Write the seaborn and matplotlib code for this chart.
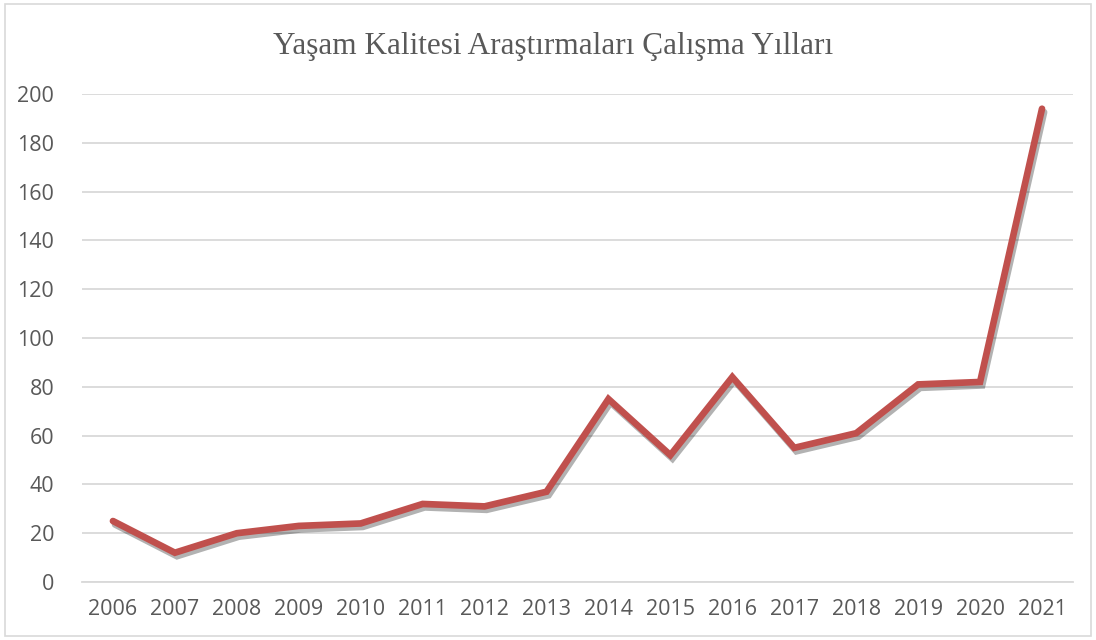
import pandas as pd
import matplotlib
matplotlib.use("Agg")
import matplotlib.pyplot as plt
import matplotlib.patheffects as pe
from matplotlib.patches import Rectangle
import seaborn as sns

# =========================
# DATA
# =========================
years = ["2006", "2007", "2008", "2009", "2010", "2011", "2012", "2013",
         "2014", "2015", "2016", "2017", "2018", "2019", "2020", "2021"]
counts = [25, 12, 20, 23, 24, 32, 31, 37, 75, 52, 84, 55, 61, 81, 82, 194]
yticks = [0, 20, 40, 60, 80, 100, 120, 140, 160, 180, 200]
title = "Yaşam Kalitesi Araştırmaları Çalışma Yılları"

df = pd.DataFrame({"year": years, "count": counts})

# =========================
# STYLE
# =========================
sns.set_style("white")
plt.rcParams["font.family"] = ["Open Sans", "DejaVu Sans"]
text_gray = "#595959"
grid_gray = "#D9D9D9"
line_red = "#C0504D"

fig = plt.figure(figsize=(10.96, 6.4), dpi=100)
ax = fig.add_axes([0.0748, 0.0906, 0.9042, 0.7624])

sns.lineplot(data=df, x="year", y="count", ax=ax, color=line_red,
             linewidth=4.8, solid_joinstyle="miter", solid_capstyle="round",
             path_effects=[pe.SimpleLineShadow(offset=(1.5, -2.5), shadow_color="black", alpha=0.3),
                           pe.Normal()])

ax.set_xlim(-0.5, len(years) - 0.5)
ax.set_ylim(0, 200)
ax.set_yticks(yticks)
ax.yaxis.grid(True, color=grid_gray, linewidth=1.3)
ax.set_axisbelow(True)
for side in ["top", "right", "left"]:
    ax.spines[side].set_visible(False)
ax.spines["bottom"].set_color(grid_gray)
ax.spines["bottom"].set_linewidth(1.3)
ax.tick_params(axis="both", length=0, labelsize=15.5, colors=text_gray)
ax.tick_params(axis="x", pad=12)
ax.tick_params(axis="y", pad=20)
ax.set_xlabel("")
ax.set_ylabel("")

fig.text(0.505, 0.928, title, ha="center", va="center", fontsize=22.5,
         color=text_gray, family=["Liberation Serif", "DejaVu Serif"])

# chart border
fig.patches.append(Rectangle((0.005, 0.006), 0.99, 0.988, transform=fig.transFigure,
                             fill=False, edgecolor=grid_gray, linewidth=1.2))

plt.savefig("out.png", dpi=100)
plt.close()
